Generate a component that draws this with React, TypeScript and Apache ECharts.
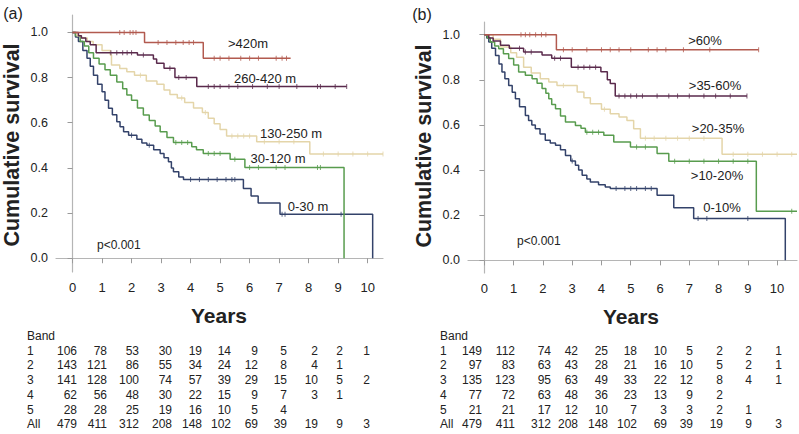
import React, { useEffect, useRef } from "react";
import * as echarts from "echarts";

// ---------- data: Kaplan-Meier curves [years, survival] (survival after each drop) ----------
const yearTicks = [0, 1, 2, 3, 4, 5, 6, 7, 8, 9, 10];
const survTicks = [0, 0.2, 0.4, 0.6, 0.8, 1.0];

const seriesNamesA = [">420m", "260-420 m", "130-250 m", "30-120 m", "0-30 m"];
const seriesNamesB = [">60%", ">35-60%", ">20-35%", ">10-20%", "0-10%"];

const aGt420 = [[0, 1], [2.44, 0.955], [4.43, 0.886], [7.39, 0.886]];
const a260to420 = [[0, 1], [0.2, 0.985], [0.3, 0.975], [0.45, 0.96], [0.6, 0.945], [0.8, 0.91], [2.2, 0.9], [2.74, 0.882], [2.85, 0.863], [3.1, 0.841], [3.47, 0.8], [4.21, 0.76], [9.29, 0.76]];
const a130to250 = [[0, 1], [0.15, 0.985], [0.3, 0.975], [0.5, 0.96], [0.7, 0.945], [1.0, 0.92], [1.28, 0.9], [1.32, 0.856], [1.6, 0.84], [1.84, 0.826], [2.1, 0.81], [2.5, 0.785], [2.86, 0.77], [3.1, 0.745], [3.3, 0.725], [3.55, 0.71], [3.8, 0.69], [4.1, 0.665], [4.4, 0.645], [4.6, 0.62], [4.8, 0.595], [5.0, 0.57], [5.22, 0.541], [6.24, 0.516], [8.04, 0.461], [10.52, 0.461]];
const a30to120 = [[0, 1], [0.1, 0.985], [0.26, 0.96], [0.4, 0.94], [0.55, 0.91], [0.71, 0.886], [0.9, 0.86], [1.1, 0.835], [1.28, 0.81], [1.5, 0.78], [1.7, 0.75], [1.84, 0.723], [2.0, 0.7], [2.2, 0.665], [2.4, 0.634], [2.6, 0.61], [2.8, 0.585], [2.97, 0.56], [3.2, 0.535], [3.42, 0.512], [4.04, 0.494], [4.2, 0.48], [4.43, 0.464], [5.34, 0.438], [5.84, 0.402], [9.2, 0]];
const a0to30 = [[0, 1], [0.1, 0.98], [0.2, 0.96], [0.35, 0.92], [0.49, 0.886], [0.6, 0.85], [0.71, 0.81], [0.85, 0.77], [1.0, 0.737], [1.1, 0.7], [1.22, 0.664], [1.35, 0.635], [1.5, 0.604], [1.61, 0.582], [1.73, 0.56], [1.9, 0.545], [2.18, 0.527], [2.35, 0.51], [2.52, 0.5], [2.75, 0.48], [2.97, 0.464], [3.1, 0.445], [3.25, 0.427], [3.35, 0.4], [3.42, 0.383], [3.6, 0.36], [3.76, 0.349], [5.79, 0.309], [6.05, 0.275], [6.29, 0.245], [7.03, 0.195], [10.17, 0]];

const bGt60 = [[0, 1], [2.46, 0.933], [9.37, 0.933]];
const b35to60 = [[0, 1], [0.15, 0.985], [0.3, 0.972], [0.55, 0.953], [0.85, 0.94], [1.34, 0.923], [1.97, 0.91], [2.3, 0.895], [2.97, 0.856], [3.98, 0.836], [4.2, 0.8], [4.3, 0.783], [4.47, 0.728], [8.97, 0.728]];
const b20to35 = [[0, 1], [0.3, 0.98], [0.55, 0.945], [0.9, 0.92], [1.1, 0.9], [1.34, 0.856], [1.6, 0.83], [1.91, 0.805], [2.2, 0.79], [2.48, 0.775], [3.17, 0.746], [3.4, 0.72], [3.62, 0.694], [4.0, 0.67], [4.3, 0.65], [4.6, 0.635], [4.87, 0.62], [5.1, 0.583], [5.33, 0.541], [8.12, 0.47], [10.68, 0.47]];
const b10to20 = [[0, 1], [0.1, 0.985], [0.2, 0.967], [0.35, 0.95], [0.49, 0.938], [0.65, 0.915], [0.83, 0.894], [1.0, 0.865], [1.17, 0.834], [1.4, 0.82], [1.63, 0.805], [1.8, 0.785], [1.97, 0.761], [2.1, 0.74], [2.2, 0.716], [2.3, 0.69], [2.43, 0.672], [2.6, 0.64], [2.77, 0.613], [3.11, 0.598], [3.3, 0.585], [3.45, 0.568], [4.08, 0.554], [4.42, 0.524], [4.99, 0.502], [5.9, 0.473], [6.3, 0.439], [9.29, 0.218], [10.68, 0.218]];
const b0to10 = [[0, 1], [0.08, 0.985], [0.15, 0.967], [0.25, 0.94], [0.38, 0.908], [0.5, 0.87], [0.6, 0.834], [0.7, 0.805], [0.83, 0.775], [0.95, 0.745], [1.06, 0.716], [1.2, 0.68], [1.4, 0.642], [1.51, 0.62], [1.62, 0.6], [1.74, 0.583], [1.9, 0.56], [2.08, 0.532], [2.25, 0.52], [2.43, 0.51], [2.6, 0.49], [2.77, 0.465], [2.95, 0.44], [3.11, 0.421], [3.22, 0.4], [3.34, 0.377], [3.5, 0.36], [3.62, 0.347], [3.9, 0.335], [4.13, 0.325], [4.3, 0.318], [5.9, 0.288], [6.47, 0.233], [7.15, 0.185], [10.28, 0]];

// censor times (years)
const cAGt420 = [1.6, 1.75, 1.95, 2.05, 2.15, 2.9, 3.2, 3.5, 3.75, 3.95, 4.1, 4.8, 5.0, 5.3, 5.7, 6.0, 6.3, 6.9, 7.1, 7.25];
const cA260to420 = [1.3, 1.5, 1.7, 1.85, 2.0, 2.4, 3.3, 3.6, 3.85, 4.6, 4.8, 5.0, 5.3, 5.6, 6.1, 6.6, 7.0, 7.6, 8.3, 8.4, 8.9, 9.29];
const cA130to250 = [2.3, 3.7, 4.5, 5.4, 5.6, 5.8, 6.0, 6.5, 7.0, 7.5, 8.5, 9.0, 9.5, 10.0, 10.52];
const cA30to120 = [3.5, 3.7, 3.9, 4.6, 4.8, 5.0, 5.5, 6.0, 6.3, 6.9, 7.2, 8.3, 8.4];
const cA0to30 = [2.0, 2.6, 4.0, 4.3, 4.6, 4.9, 5.2, 5.4, 5.5, 7.1, 7.2, 9.1];
const cBGt60 = [1.25, 1.4, 1.55, 1.75, 1.95, 2.1, 2.7, 3.0, 3.5, 4.0, 4.3, 4.6, 5.0, 5.6, 5.9, 6.2, 6.8, 7.7, 9.37];
const cB35to60 = [1.2, 1.4, 1.6, 2.4, 2.6, 3.2, 3.4, 3.6, 3.8, 4.6, 4.8, 5.0, 5.2, 5.4, 5.9, 6.3, 6.6, 7.0, 7.5, 7.9, 8.4, 8.97];
const cB20to35 = [2.7, 4.1, 5.5, 5.8, 6.2, 6.6, 7.0, 7.5, 8.5, 9.0, 9.5, 10.0, 10.5];
const cB10to20 = [3.5, 3.7, 3.9, 5.2, 5.5, 6.5, 7.0, 7.5, 8.0, 8.5, 9.0, 10.5];
const cB0to10 = [3.0, 4.5, 4.8, 5.0, 5.2, 5.5, 5.7, 7.3, 7.6, 9.0];

// numbers at risk
const bandLabels = ["1", "2", "3", "4", "5", "All"];
const riskA = [
  [106, 78, 53, 30, 19, 14, 9, 5, 2, 2, 1],
  [143, 121, 86, 55, 34, 24, 12, 8, 4, 1],
  [141, 128, 100, 74, 57, 39, 29, 15, 10, 5, 2],
  [62, 56, 48, 30, 22, 15, 9, 7, 3, 1],
  [28, 28, 25, 19, 16, 10, 5, 4],
  [479, 411, 312, 208, 148, 102, 69, 39, 19, 9, 3],
];
const riskB = [
  [149, 112, 74, 42, 25, 18, 10, 5, 2, 2, 1],
  [97, 83, 63, 43, 28, 21, 16, 10, 5, 2, 1],
  [135, 123, 95, 63, 49, 33, 22, 12, 8, 4, 1],
  [77, 72, 63, 48, 36, 23, 13, 9, 2],
  [21, 21, 17, 12, 10, 7, 3, 3, 2, 1],
  [479, 411, 312, 208, 148, 102, 69, 39, 19, 9, 3],
];

// ---------- styling / layout ----------
const COLORS = ["#b25a4f", "#5a2a4c", "#e4d5a9", "#589c4e", "#33426a"];
const FONT = "Liberation Sans, Arial, sans-serif";
const colA = [77, 107, 139, 172, 202, 231, 258, 287, 318, 343, 370];
const colB = [482, 515, 551, 578, 608, 637, 667, 693, 723, 752, 782];
const rowY0 = 336;
const rowStep = 14.7;

const labelPosA = [[248, 43], [265, 78], [291, 133], [278, 158], [308, 206]];
const labelPosB = [[705, 40], [715, 85], [718, 128], [717, 175], [722, 207]];

function survAt(curve: number[][], t: number) {
  let s = curve[0][1];
  for (const p of curve) if (p[0] <= t) s = p[1];
  return s;
}

export default function App() {
  const ref = useRef<HTMLDivElement>(null);
  useEffect(() => {
    if (!ref.current) return;
    const chart = echarts.init(ref.current, undefined, { renderer: "svg" });

    const curvesA = [aGt420, a260to420, a130to250, a30to120, a0to30];
    const curvesB = [bGt60, b35to60, b20to35, b10to20, b0to10];
    const censA = [cAGt420, cA260to420, cA130to250, cA30to120, cA0to30];
    const censB = [cBGt60, cB35to60, cB20to35, cB10to20, cB0to10];

    const series: any[] = [];
    const addPanel = (curves: number[][][], cens: number[][], names: string[], idx: number) => {
      curves.forEach((c, i) => {
        series.push({
          type: "line",
          name: names[i],
          xAxisIndex: idx,
          yAxisIndex: idx,
          data: c,
          step: "end",
          showSymbol: false,
          lineStyle: { color: COLORS[i], width: 1.5 },
          z: 10 - i,
        });
        series.push({
          type: "scatter",
          xAxisIndex: idx,
          yAxisIndex: idx,
          data: cens[i].map((t) => [t, survAt(c, t)]),
          symbol: "rect",
          symbolSize: [1, 5],
          itemStyle: { color: COLORS[i] },
          z: 10 - i,
        });
      });
    };
    addPanel(curvesA, censA, seriesNamesA, 0);
    addPanel(curvesB, censB, seriesNamesB, 1);

    const axisLine = { lineStyle: { color: "#b5b5b5", width: 1.2 } };
    const mkX = (idx: number, max: number) => ({
      type: "value",
      gridIndex: idx,
      min: -0.56,
      max,
      splitLine: { show: false },
      axisLine,
      axisTick: { show: true, length: 5, lineStyle: { color: "#9a9a9a" }, customValues: yearTicks },
      axisLabel: { customValues: yearTicks, color: "#222", fontSize: 13, fontFamily: FONT, margin: 9 },
    });
    const mkY = (idx: number, min: number, max: number) => ({
      type: "value",
      gridIndex: idx,
      min,
      max,
      splitLine: { show: false },
      axisLine: { show: true, ...axisLine },
      axisTick: { show: true, length: 5, lineStyle: { color: "#9a9a9a" }, customValues: survTicks },
      axisLabel: {
        customValues: survTicks,
        color: "#222",
        fontSize: 12.5,
        fontFamily: FONT,
        margin: 8,
        formatter: (v: number) => v.toFixed(1),
      },
    });

    const graphic: any[] = [];
    const txt = (x: number, y: number, text: string, font: string, align = "left", extra: any = {}) =>
      graphic.push({
        type: "text",
        x,
        y,
        ...extra,
        style: { text, fill: "#222", font, textAlign: align, textVerticalAlign: "middle" },
      });

    txt(13, 13, "(a)", `16px ${FONT}`, "center");
    txt(422, 14, "(b)", `16px ${FONT}`, "center");
    txt(12, 145, "Cumulative survival", `bold 21.5px ${FONT}`, "center", { rotation: Math.PI / 2 });
    txt(424, 146, "Cumulative survival", `bold 21.5px ${FONT}`, "center", { rotation: Math.PI / 2 });
    txt(219, 315, "Years", `bold 21px ${FONT}`, "center");
    txt(631, 316, "Years", `bold 21px ${FONT}`, "center");
    txt(97, 245, "p<0.001", `12px ${FONT}`, "left");
    txt(517, 241, "p<0.001", `12px ${FONT}`, "left");
    seriesNamesA.forEach((n, i) => txt(labelPosA[i][0], labelPosA[i][1], n, `13px ${FONT}`, "center"));
    seriesNamesB.forEach((n, i) => txt(labelPosB[i][0], labelPosB[i][1], n, `13px ${FONT}`, "center"));

    const table = (risk: number[][], cols: number[], labelX: number) => {
      txt(labelX, rowY0, "Band", `12px ${FONT}`, "left");
      risk.forEach((row, r) => {
        const y = rowY0 + rowStep * (r + 1);
        txt(labelX, y, bandLabels[r], `12px ${FONT}`, "left");
        row.forEach((v, c) => txt(cols[c], y, String(v), `12px ${FONT}`, "right"));
      });
    };
    table(riskA, colA, 27);
    table(riskB, colB, 440);

    chart.setOption({
      animation: false,
      backgroundColor: "#ffffff",
      textStyle: { fontFamily: FONT },
      grid: [
        { left: 56, right: 416, top: 15, bottom: 162 },
        { left: 468, right: 2, top: 22, bottom: 161 },
      ],
      xAxis: [mkX(0, 10.52), mkX(1, 10.68)],
      yAxis: [mkY(0, -0.061, 1.077), mkY(1, -0.056, 1.056)],
      series,
      graphic,
    });
    return () => chart.dispose();
  }, []);
  return <div ref={ref} style={{ position: "absolute", left: 0, top: 0, width: 799, height: 434 }} />;
}
